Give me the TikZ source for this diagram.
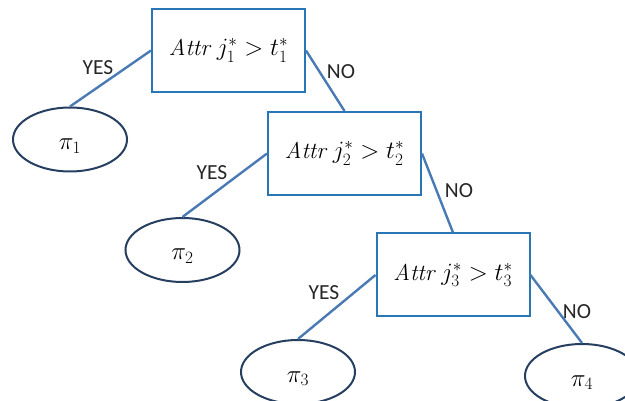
\documentclass[tikz,border=0pt]{standalone}
\usepackage{fontspec}
\setsansfont{Carlito}
\usetikzlibrary{shapes.geometric}
\definecolor{boxblue}{RGB}{40,118,182}
\definecolor{linkblue}{RGB}{74,122,180}
\definecolor{ovalnavy}{RGB}{38,62,96}
\tikzset{
  testbox/.style={draw=boxblue,line width=2pt,rectangle,minimum width=153pt,minimum height=83pt,inner sep=0pt,
    font=\fontsize{23}{27}\selectfont},
  leaf/.style={draw=ovalnavy,line width=2pt,ellipse,minimum width=114pt,minimum height=64pt,inner sep=0pt,
    text height=20pt,text depth=0pt,font=\fontsize{25}{29}\selectfont},
  link/.style={draw=linkblue,line width=2.4pt},
  answer/.style={font=\sffamily\fontsize{21.5}{25}\selectfont,inner sep=0pt,text=black!85}
}
\begin{document}
\begin{tikzpicture}[x=1pt,y=-1pt]
\useasboundingbox (0,0) rectangle (625,401);
\node[testbox] (b1) at (228.5,50.5) {$\mathit{Attr}\;j_1^{*} > t_1^{*}$};
\node[testbox] (b2) at (344.5,153.5) {$\mathit{Attr}\;j_2^{*} > t_2^{*}$};
\node[testbox] (b3) at (453,275) {$\mathit{Attr}\;j_3^{*} > t_3^{*}$};
\node[leaf] (p1) at (70,139.5) {$\pi_1$};
\node[leaf] (p2) at (182.5,250) {$\pi_2$};
\node[leaf] (p3) at (298,372) {$\pi_3$};
\node[leaf] (p4) at (582,376) {$\pi_4$};
\draw[link] (b1.west) -- (p1.north);
\draw[link] (b1.east) -- (b2.north);
\draw[link] (b2.west) -- (p2.north);
\draw[link] (b2.east) -- (b3.north);
\draw[link] (b3.west) -- (p3.north);
\draw[link] (b3.east) -- (p4.north);
\node[answer] (y1) at (98,68) {YES};
\node[answer] (n1) at (341,72) {NO};
\node[answer] (y2) at (212,173) {YES};
\node[answer] (n2) at (459,191) {NO};
\node[answer] (y3) at (324,293) {YES};
\node[answer] (n3) at (577,312) {NO};
\end{tikzpicture}
\end{document}
